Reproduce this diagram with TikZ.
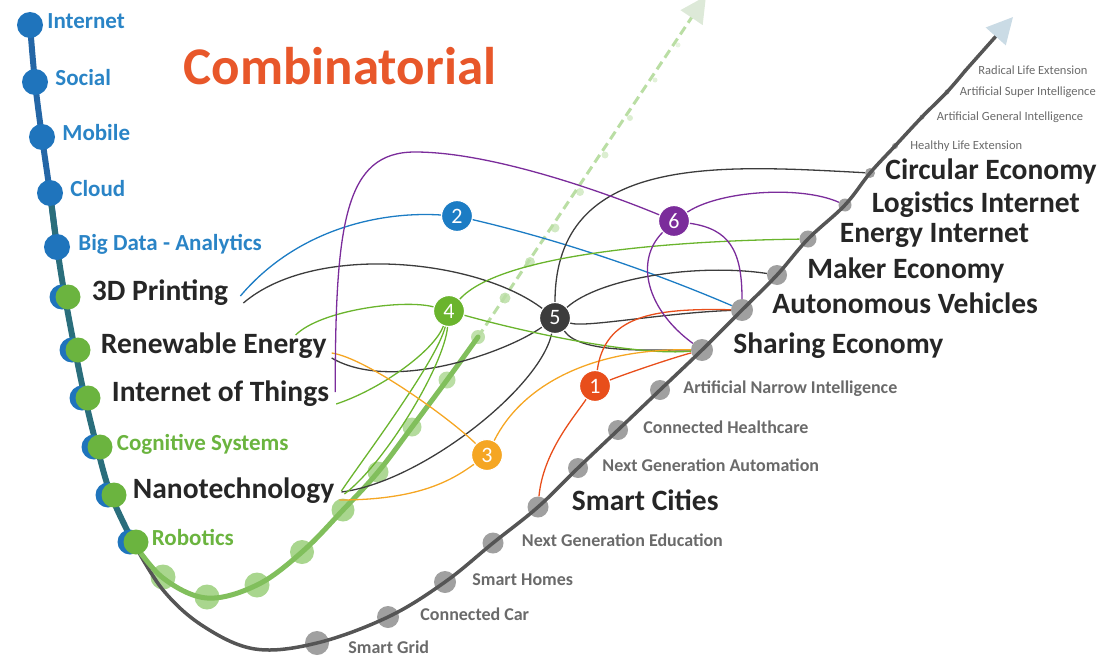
\documentclass[tikz,border=0pt]{standalone}
\usepackage{fontspec}
\setmainfont{Carlito}
\usepackage{tikz}
\usetikzlibrary{positioning,arrows.meta}

\definecolor{titleorange}{HTML}{E8572A}
\definecolor{techblue}{HTML}{1F74BC}
\definecolor{labelblue}{HTML}{2A84C6}
\definecolor{techgreen}{HTML}{6BB43F}
\definecolor{trackblue}{HTML}{2466A6}
\definecolor{trackteal}{HTML}{2A6E7C}
\definecolor{trackgray}{HTML}{555555}
\definecolor{dotgray}{HTML}{A0A0A0}
\definecolor{softgreen}{HTML}{8CC868}
\definecolor{tipblue}{HTML}{CADBE5}
\definecolor{tipgreen}{HTML}{DDE9D8}
\definecolor{darktext}{HTML}{262626}
\definecolor{graytext}{HTML}{6A6A6A}
\definecolor{linkred}{HTML}{E84E1B}
\definecolor{linkblue}{HTML}{1C7CC4}
\definecolor{linkorange}{HTML}{F5A623}
\definecolor{linkgreen}{HTML}{6AB42D}
\definecolor{linkdark}{HTML}{3C3C3C}
\definecolor{linkpurple}{HTML}{7B2C9B}

\tikzset{%
  >=latex,
  font=\bfseries,
  gdot/.style={circle,inner sep=0pt,fill=dotgray,minimum size=#1},
  bpt/.style={circle,inner sep=0pt,fill=techblue,minimum size=#1},
  gpt/.style={circle,inner sep=0pt,fill=techgreen,minimum size=25pt},
  fpt/.style={circle,inner sep=0pt,fill=softgreen,minimum size=#1},
  hub/.style={circle,inner sep=0pt,minimum size=31pt,draw=white,line width=1.2pt,text=white,font=\mdseries\fontsize{22}{22}\selectfont},
  tag/.style={inner sep=0pt,text height=.66em,text depth=0pt},
  bluetag/.style={tag,text=labelblue,font=\bfseries\fontsize{23}{23}\selectfont},
  greentag/.style={tag,text=techgreen,font=\bfseries\fontsize{23}{23}\selectfont},
  bigtag/.style={tag,text=darktext,font=\bfseries\fontsize{29.5}{29.5}\selectfont},
  graytag/.style={tag,text=graytext,font=\bfseries\fontsize{18}{18}\selectfont},
  tinytag/.style={tag,text=graytext,font=\mdseries\fontsize{12.5}{12.5}\selectfont},
  link/.style={line width=1.3pt},
}

\begin{document}
\begin{tikzpicture}[x=1pt,y=-1pt]
\useasboundingbox (0,0) rectangle (1105,661);

% green track, faded dots first
\foreach \x/\y/\s/\o in {163/577/25pt/.75,207/597/25pt/.75,257/585/25pt/.75,302/552/24pt/.75,343/510/23pt/.75,
  378/472/21pt/.7,412/427/19pt/.65,447/380/17pt/.6,478/337/14pt/.55,505/298/11pt/.5,530/262/10pt/.45,
  555/228/9pt/.4,580/192/8pt/.35,605/155/7pt/.3,630/118/6pt/.3,655/80/5pt/.25,678/45/5pt/.2}
  \node[fpt=\s,opacity=\o] at (\x,\y) {};

% gray dots of the lower track
\node[gdot=24pt] (p-grid) at (317,643) {};
\node[gdot=22pt] (p-car) at (388,617) {};
\node[gdot=22pt] (p-homes) at (445,582) {};
\node[gdot=21pt] (p-education) at (493,543) {};
\node[gdot=21pt] (p-cities) at (538,507) {};
\node[gdot=20pt] (p-automation) at (578,468) {};
\node[gdot=20pt] (p-healthcare) at (618,430) {};
\node[gdot=20pt] (p-ani) at (660,390) {};
\node[gdot=22pt] (p-sharing) at (702,350) {};
\node[gdot=22pt] (p-autonomous) at (742,310) {};
\node[gdot=20pt] (p-maker) at (777,275) {};
\node[gdot=17pt] (p-energy) at (808,239) {};
\node[gdot=13pt] (p-logistics) at (845,205) {};
\node[gdot=10pt] (p-circular) at (870,173) {};
\node[gdot=6pt] (p-healthy) at (895,146) {};
\node[gdot=5pt] (p-agi) at (922,117) {};
\node[gdot=5pt] (p-asi) at (947,92) {};
\node[gdot=4pt] (p-radical) at (965,71) {};

% tracks
\draw[trackgray,line width=3.5pt,-{Triangle[length=26pt,width=26pt,color=tipblue]}]
  plot[smooth,tension=.6] coordinates {(133,542) (163,590) (203,626) (255,649) (317,643) (388,617)
  (445,582) (493,543) (538,507) (578,468) (618,430) (660,390) (702,350) (742,310) (777,275) (808,239)
  (845,205) (870,173) (895,146) (922,117) (947,92) (965,71)} -- (1013,17);
\draw[softgreen!60,line width=3pt,dash pattern=on 9pt off 5pt,-{Triangle[length=26pt,width=26pt,color=tipgreen]}]
  (478,337) -- (706,-4);
\draw[techgreen!85,line width=5pt,line cap=round]
  plot[smooth,tension=.6] coordinates {(133,542) (163,578) (207,598) (257,585) (302,552) (343,510) (378,472)
  (412,427) (447,380) (478,337)};
\draw[trackblue,line width=6pt,line cap=round]
  plot[smooth,tension=.6] coordinates {(30,25) (35,82) (42,137) (50,193) (57,247)};
\draw[trackteal,line width=6pt,line cap=round]
  plot[smooth,tension=.6] coordinates {(50,193) (57,247) (65,297) (75,350) (85,398) (97,447) (111,495) (133,542)};

% left track dots
\node[bpt=26pt] (p-internet) at (30,25) {};
\node[bpt=26pt] (p-social) at (35,82) {};
\node[bpt=26pt] (p-mobile) at (42,137) {};
\node[bpt=26pt] (p-cloud) at (50,193) {};
\node[bpt=26pt] (p-bigdata) at (57,247) {};
\node[bpt=25pt] (q-printing) at (62,297) {};
\node[gpt] (p-printing) at (68,297) {};
\node[bpt=25pt] (q-renewable) at (72,350) {};
\node[gpt] (p-renewable) at (78,350) {};
\node[bpt=25pt] (q-iot) at (82,398) {};
\node[gpt] (p-iot) at (88,398) {};
\node[bpt=25pt] (q-cognitive) at (94,447) {};
\node[gpt] (p-cognitive) at (100,447) {};
\node[bpt=25pt] (q-nano) at (108,495) {};
\node[gpt] (p-nano) at (114,495) {};
\node[bpt=25pt] (q-robotics) at (130,542) {};
\node[gpt] (p-robotics) at (136,542) {};

% labels
\node[text=titleorange,font=\bfseries\fontsize{53}{53}\selectfont] (title) at (340,66) {Combinatorial};

\node[bluetag,right=4pt of p-internet] (internet) {Internet};
\node[bluetag,right=7pt of p-social] (social) {Social};
\node[bluetag,right=7pt of p-mobile] (mobile) {Mobile};
\node[bluetag,right=7pt of p-cloud] (cloud) {Cloud};
\node[bluetag,right=8pt of p-bigdata] (bigdata) {Big Data - Analytics};
\node[bigtag,right=11pt of p-printing] (printing) {3D Printing};
\node[bigtag,right=10pt of p-renewable] (renewable) {Renewable Energy};
\node[bigtag,right=11pt of p-iot] (iot) {Internet of Things};
\node[greentag,right=4pt of p-cognitive] (cognitive) {Cognitive Systems};
\node[bigtag,right=6pt of p-nano] (nano) {Nanotechnology};
\node[greentag,right=3pt of p-robotics] (robotics) {Robotics};

\node[graytag,right=19pt of p-grid,yshift=-7pt] (grid) {Smart Grid};
\node[graytag,right=21pt of p-car] (car) {Connected Car};
\node[graytag,right=16pt of p-homes] (homes) {Smart Homes};
\node[graytag,right=18pt of p-education] (education) {Next Generation Education};
\node[bigtag,right=23pt of p-cities] (cities) {Smart Cities};
\node[graytag,right=14pt of p-automation] (automation) {Next Generation Automation};
\node[graytag,right=15pt of p-healthcare] (healthcare) {Connected Healthcare};
\node[graytag,right=13pt of p-ani] (ani) {Artificial Narrow Intelligence};
\node[bigtag,right=20pt of p-sharing] (sharing) {Sharing Economy};
\node[bigtag,right=19pt of p-autonomous] (autonomous) {Autonomous Vehicles};
\node[bigtag,right=20pt of p-maker] (maker) {Maker Economy};
\node[bigtag,right=23pt of p-energy] (energy) {Energy Internet};
\node[bigtag,right=20pt of p-logistics,yshift=-4pt] (logistics) {Logistics Internet};
\node[bigtag,right=10pt of p-circular,yshift=-3pt] (circular) {Circular Economy};
\node[tinytag,right=12pt of p-healthy] (healthy) {Healthy Life Extension};
\node[tinytag,right=12pt of p-agi] (agi) {Artificial General Intelligence};
\node[tinytag,right=10pt of p-asi] (asi) {Artificial Super Intelligence};
\node[tinytag,right=11pt of p-radical] (radical) {Radical Life Extension};

% numbered hubs
\node[hub,fill=linkred] (c1) at (595,386) {1};
\node[hub,fill=linkblue] (c2) at (457,216) {2};
\node[hub,fill=linkorange] (c3) at (487,455) {3};
\node[hub,fill=linkgreen] (c4) at (449,311) {4};
\node[hub,fill=linkdark] (c5) at (555,318) {5};
\node[hub,fill=linkpurple] (c6) at (674,221) {6};

% links
\begin{scope}[link]
\draw[linkblue] ([xshift=12pt,yshift=1pt]printing.east) .. controls +(55,-65) and +(-80,-5) .. (c2);
\draw[linkblue] (c2) .. controls +(120,28) and +(-70,-30) .. (p-autonomous);

\draw[linkdark] ([xshift=15pt,yshift=-6pt]printing.east) .. controls +(70,-60) and +(-80,-60) .. (c5);
\draw[linkdark] ([xshift=5pt,yshift=-8pt]renewable.east) .. controls +(60,35) and +(-50,35) .. (c5);
\draw[linkdark] ([xshift=7pt,yshift=3pt]nano.east) .. controls +(80,-10) and +(-15,70) .. (c5);
\draw[linkdark] (c5) .. controls +(0,-165) and +(-150,-8) .. (p-circular);
\draw[linkdark] (c5) .. controls +(45,-40) and +(-80,-12) .. (p-maker);
\draw[linkdark] (c5) .. controls +(30,10) and +(-80,3) .. (p-autonomous);
\draw[linkdark] (c5) .. controls +(25,35) and +(-60,0) .. (p-sharing);

\draw[linkgreen] ([xshift=-31pt,yshift=15pt]renewable.east) .. controls +(25,-25) and +(-45,-12) .. (c4);
\draw[linkgreen] ([xshift=7pt,yshift=-6pt]iot.east) .. controls +(45,-15) and +(-15,40) .. (c4);
\draw[linkgreen] ([xshift=7pt,yshift=4pt]nano.east) .. controls +(20,-30) and +(-12,50) .. (c4);
\draw[linkgreen] ([xshift=10pt,yshift=1pt]nano.east) .. controls +(40,-30) and +(-5,55) .. (c4);
\draw[linkgreen] (c4) .. controls +(50,-55) and +(-150,2) .. (p-energy);
\draw[linkgreen] (c4) .. controls +(90,25) and +(-60,6) .. (p-sharing);

\draw[linkorange] ([xshift=5pt,yshift=-3pt]renewable.east) .. controls +(35,5) and +(-35,-35) .. (c3);
\draw[linkorange] ([xshift=5pt,yshift=-5pt]nano.east) .. controls +(80,0) and +(-35,25) .. (c3);
\draw[linkorange] (c3) .. controls +(35,-70) and +(-110,-2) .. (p-sharing);

\draw[linkred] (p-cities) .. controls +(5,-55) and +(-20,30) .. (c1);
\draw[linkred] (c1) .. controls +(10,-70) and +(-90,-2) .. (p-autonomous);
\draw[linkred] (c1) .. controls +(30,-12) and +(-30,8) .. (p-sharing);

\draw[linkpurple] ([xshift=6pt,yshift=6pt]iot.east) .. controls +(0,-170) and +(-70,0) .. (415,152)
  .. controls +(80,0) and +(-60,-25) .. (c6);
\draw[linkpurple] (c6) .. controls +(45,-30) and +(-45,-20) .. (p-logistics);
\draw[linkpurple] (c6) .. controls +(55,8) and +(0,-60) .. (p-autonomous);
\draw[linkpurple] (c6) .. controls +(-40,40) and +(-55,-40) .. (p-sharing);
\end{scope}
\end{tikzpicture}
\end{document}
